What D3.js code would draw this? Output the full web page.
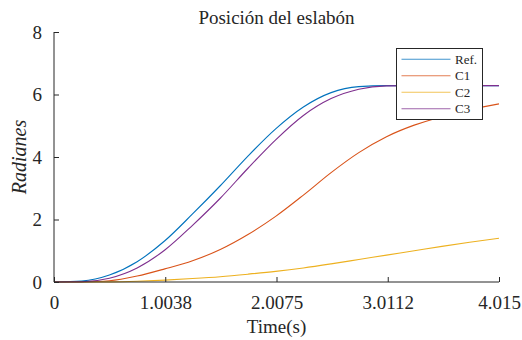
<!DOCTYPE html>
<html>
<head>
<meta charset="utf-8">
<script src="https://cdn.jsdelivr.net/npm/d3@7"></script>
<style>
  html, body { margin: 0; padding: 0; background: #fff; }
  svg { display: block; }
</style>
</head>
<body>
<svg id="chart" width="522" height="340"></svg>
<script>
// Sample times (s)
const time = [0, 0.25, 0.5, 0.75, 1, 1.25, 1.5, 1.75, 2, 2.25, 2.5, 2.75, 3, 3.25, 3.5, 3.75, 4.015];

// Link position (rad) for each trajectory
const refPos = [0, 0.032, 0.223, 0.650, 1.319, 2.178, 3.08, 4.03, 4.90, 5.60, 6.060, 6.251, 6.283, 6.283, 6.283, 6.283, 6.283];
const c1Pos  = [0, 0.005, 0.04, 0.19, 0.42, 0.68, 1.04, 1.52, 2.10, 2.78, 3.50, 4.14, 4.65, 5.02, 5.29, 5.51, 5.70];
const c2Pos  = [0, 0, 0.005, 0.025, 0.06, 0.11, 0.17, 0.25, 0.34, 0.45, 0.58, 0.72, 0.86, 1.0, 1.14, 1.27, 1.40];
const c3Pos  = [0, 0.007, 0.121, 0.449, 1.024, 1.815, 2.68, 3.64, 4.55, 5.33, 5.87, 6.17, 6.275, 6.283, 6.283, 6.283, 6.283];

const seriesNames = ["Ref.", "C1", "C2", "C3"];
const seriesColors = ["#0072BD", "#D95319", "#EDB120", "#7E2F8E"];

const xTicks = [0, 1.0038, 2.0075, 3.0112, 4.015];
const xTickLabels = ["0", "1.0038", "2.0075", "3.0112", "4.015"];
const yTicks = [0, 2, 4, 6, 8];

const FONT = "'Liberation Serif', 'DejaVu Serif', 'Times New Roman', serif";
const INK = "#262626";

const series = [refPos, c1Pos, c2Pos, c3Pos].map((vals, i) => ({
  name: seriesNames[i],
  color: seriesColors[i],
  points: time.map((t, k) => [t, vals[k]])
}));

const svg = d3.select("#chart").attr("font-family", FONT);
const plot = { left: 54, right: 499, top: 32, bottom: 282 };

const x = d3.scaleLinear().domain([0, 4.015]).range([plot.left, plot.right]);
const y = d3.scaleLinear().domain([0, 8]).range([plot.bottom, plot.top]);

svg.append("defs").append("clipPath").attr("id", "plotClip")
  .append("rect")
  .attr("x", plot.left).attr("y", plot.top - 1)
  .attr("width", plot.right - plot.left).attr("height", plot.bottom - plot.top + 2);

// Curves
const line = d3.line()
  .x(d => x(d[0]))
  .y(d => y(d[1]))
  .curve(d3.curveMonotoneX);

const curves = svg.append("g").attr("clip-path", "url(#plotClip)");
series.forEach(s => {
  curves.append("path")
    .datum(s.points)
    .attr("fill", "none")
    .attr("stroke", s.color)
    .attr("stroke-width", 1.1)
    .attr("d", line);
});

// Axes with inward ticks
const xAxis = d3.axisBottom(x)
  .tickValues(xTicks)
  .tickFormat((d, i) => xTickLabels[i])
  .tickSize(-5)
  .tickPadding(14);
const gx = svg.append("g").attr("transform", `translate(0,${plot.bottom})`).call(xAxis);

const yAxis = d3.axisLeft(y)
  .tickValues(yTicks)
  .tickFormat(d3.format("d"))
  .tickSize(-5)
  .tickPadding(12);
const gy = svg.append("g").attr("transform", `translate(${plot.left},0)`).call(yAxis);

[gx, gy].forEach(g => {
  g.attr("font-family", FONT).attr("font-size", 19);
  g.select(".domain").attr("stroke", INK).attr("stroke-width", 1);
  g.selectAll(".tick line").attr("stroke", INK).attr("stroke-width", 1);
  g.selectAll(".tick text").attr("fill", INK);
});
gy.select(".domain").attr("d", `M0,${plot.bottom}V${plot.top}`);
gx.select(".domain").attr("d", `M${plot.left},0H${plot.right}`);

// Title and axis labels
svg.append("text")
  .attr("x", (plot.left + plot.right) / 2).attr("y", 24)
  .attr("text-anchor", "middle")
  .attr("font-family", FONT).attr("font-size", 19).attr("fill", INK)
  .text("Posición del eslabón");

svg.append("text")
  .attr("x", (plot.left + plot.right) / 2).attr("y", 333)
  .attr("text-anchor", "middle")
  .attr("font-family", FONT).attr("font-size", 19).attr("fill", INK)
  .text("Time(s)");

svg.append("text")
  .attr("transform", `translate(26,${(plot.top + plot.bottom) / 2}) rotate(-90)`)
  .attr("text-anchor", "middle")
  .attr("font-family", FONT).attr("font-size", 20).attr("font-style", "italic").attr("fill", INK)
  .text("Radianes");

// Legend
const legend = svg.append("g");
legend.append("rect")
  .attr("x", 396.5).attr("y", 48.5)
  .attr("width", 86).attr("height", 71)
  .attr("fill", "#fff")
  .attr("stroke", INK)
  .attr("stroke-width", 1);

series.forEach((s, i) => {
  const ly = 59.3 + i * 16.5;
  legend.append("line")
    .attr("x1", 401.5).attr("x2", 450.5)
    .attr("y1", ly).attr("y2", ly)
    .attr("stroke", s.color)
    .attr("stroke-opacity", 0.75)
    .attr("stroke-width", 1.1);
  legend.append("text")
    .attr("x", 455).attr("y", ly + 4.5)
    .attr("font-family", FONT).attr("font-size", 13).attr("fill", INK)
    .text(s.name);
});
</script>
</body>
</html>
